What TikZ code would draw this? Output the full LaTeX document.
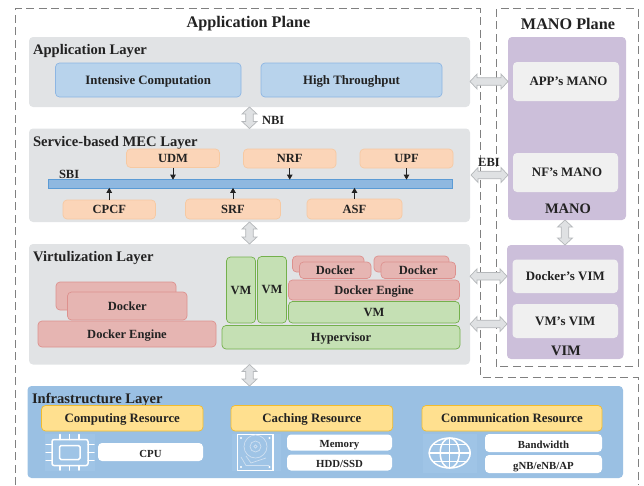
\documentclass[tikz,border=0pt]{standalone}
\usepackage{fontspec}
\setmainfont{Liberation Serif}
\usetikzlibrary{calc,arrows.meta}
\definecolor{txt}{HTML}{222222}
\definecolor{dashc}{HTML}{808080}
\definecolor{layerc}{HTML}{E1E3E5}
\definecolor{blueF}{HTML}{B8D3EC}
\definecolor{blueD}{HTML}{8DB6E3}
\definecolor{orF}{HTML}{FBD5B8}
\definecolor{orD}{HTML}{F6C9A2}
\definecolor{redF}{HTML}{E6B5B2}
\definecolor{redD}{HTML}{DD918E}
\definecolor{grF}{HTML}{C5E0B4}
\definecolor{grD}{HTML}{74B04C}
\definecolor{purF}{HTML}{CCBFDA}
\definecolor{inF}{HTML}{F0F0F0}
\definecolor{infF}{HTML}{9AC0E3}
\definecolor{iconF}{HTML}{9FC4E6}
\definecolor{diskL}{HTML}{CFE0F1}
\definecolor{yeF}{HTML}{FFE08F}
\definecolor{yeD}{HTML}{F2BC2D}
\definecolor{barF}{HTML}{8FB8E0}
\definecolor{barD}{HTML}{5B9BD5}
\definecolor{arF}{HTML}{DFE1E3}
\definecolor{arD}{HTML}{B4B7BA}
\newcommand{\fs}[1]{\bfseries\fontsize{#1}{#1}\selectfont}
\newcommand{\bx}[7]{%
  \pgfmathsetmacro\bxcx{(#3+#5)/2}\pgfmathsetmacro\bxcy{(#4+#6)/2}%
  \pgfmathsetmacro\bxw{#5-#3}\pgfmathsetmacro\bxh{#6-#4}%
  \node[#2,minimum width=\bxw pt,minimum height=\bxh pt] (#1) at (\bxcx,\bxcy) {#7};}
\tikzset{
  base/.style={rectangle,rounded corners=4pt,inner sep=0pt,outer sep=0pt,text=txt,line width=.7pt,font=\fs{12.5},text height=8.2pt,text depth=0pt},
  layer/.style={base,fill=layerc},
  appbox/.style={base,fill=blueF,draw=blueD,font=\fs{12.8}},
  nf/.style={base,fill=orF,draw=orD,font=\fs{12.5}},
  red/.style={base,fill=redF,draw=redD,font=\fs{12.5}},
  grn/.style={base,fill=grF,draw=grD,font=\fs{12.5}},
  pur/.style={base,fill=purF},
  inner/.style={base,fill=inF,font=\fs{12.9}},
  infra/.style={base,fill=infF},
  res/.style={base,fill=yeF,draw=yeD,font=\fs{12.8}},
  item/.style={base,fill=white,font=\fs{10.8},text height=10.5pt},
  title/.style={inner sep=0pt,outer sep=0pt,text=txt,font=\fs{14.6},text height=9.6pt,text depth=0pt},
  plane/.style={inner sep=0pt,outer sep=0pt,text=txt,font=\fs{16.2},text height=10.6pt,text depth=0pt},
  label/.style={inner sep=0pt,outer sep=0pt,text=txt,font=\fs{12.5},text height=8.2pt,text depth=0pt},
  planeline/.style={draw=dashc,line width=1pt,dash pattern=on 8pt off 4.5pt},
  smallarrow/.style={draw=txt,line width=.8pt,-{Triangle[length=5pt,width=5.5pt]}},
  icon/.style={draw=white,line width=1.5pt,line cap=round},
  blockarrow/.style={draw=arD,fill=arF,line width=.7pt,line join=miter,
    to path={
      -- ($(\tikztostart)!7pt!(\tikztotarget)!7.5pt!90:(\tikztotarget)$)
      -- ($(\tikztostart)!7pt!(\tikztotarget)!3.8pt!90:(\tikztotarget)$)
      -- ($(\tikztotarget)!7pt!(\tikztostart)!3.8pt!-90:(\tikztostart)$)
      -- ($(\tikztotarget)!7pt!(\tikztostart)!7.5pt!-90:(\tikztostart)$)
      -- (\tikztotarget)
      -- ($(\tikztotarget)!7pt!(\tikztostart)!7.5pt!90:(\tikztostart)$)
      -- ($(\tikztotarget)!7pt!(\tikztostart)!3.8pt!90:(\tikztostart)$)
      -- ($(\tikztostart)!7pt!(\tikztotarget)!3.8pt!-90:(\tikztotarget)$)
      -- ($(\tikztostart)!7pt!(\tikztotarget)!7.5pt!-90:(\tikztotarget)$)
      -- cycle}}
}
\begin{document}
\begin{tikzpicture}[x=1pt,y=-1pt]
\useasboundingbox (0,0) rectangle (644,485);
% planes
\draw[planeline] (15,485) -- (15,8.5) -- (480,8.5) -- (480,377) -- (638,377) -- (638,485);
\draw[planeline] (496.5,366.7) -- (496.5,8.5) -- (638,8.5) -- (638,366.7) -- cycle;
\node[plane] (appplane) at (248.5,22.5) {Application Plane};
\node[plane] (manoplane) at (568,24) {MANO Plane};
% layers
\bx{app}{layer}{29}{37}{470}{107}{}
\bx{svc}{layer}{29}{128.5}{470}{222}{}
\bx{virt}{layer}{29}{244}{470}{364.5}{}
\bx{inf}{infra}{27.5}{386}{623}{478}{}
\node[title,anchor=west] (t1) at (33,49.5) {Application Layer};
\node[title,anchor=west] (t2) at (33,141.5) {Service-based MEC Layer};
\node[title,anchor=west] (t3) at (33,256.5) {Virtulization Layer};
\node[title,anchor=west] (t4) at (32,399) {Infrastructure Layer};
% application
\bx{ic}{appbox}{55.5}{63}{241}{97}{Intensive Computation}
\bx{ht}{appbox}{261}{63}{442}{97}{High Throughput}
% service
\bx{bar}{base,rounded corners=0pt,fill=barF,draw=barD}{48}{181}{452.5}{186.5}{}
\node[label,anchor=west] (sbi) at (59,174.5) {SBI};
\bx{udm}{nf}{126.5}{149}{219.5}{167.5}{UDM}
\bx{nrf}{nf}{243.5}{149}{336}{168}{NRF}
\bx{upf}{nf}{360}{149}{453}{168}{UPF}
\bx{cpcf}{nf}{63}{200}{155.5}{219}{CPCF}
\bx{srf}{nf}{185.5}{199}{280.5}{219}{SRF}
\bx{asf}{nf}{307}{199}{402}{219}{ASF}
\foreach \n in {udm,nrf,upf} \draw[smallarrow] (\n.south) -- (\n.south |- bar.north);
\foreach \n in {cpcf,srf,asf} \draw[smallarrow] (\n.north) -- (\n.north |- bar.south);
% virtualization
\bx{dkb}{red}{56}{282}{176}{310}{}
\bx{dkf}{red}{67.5}{292}{187}{320}{Docker}
\bx{dke}{red}{38}{321}{216}{347}{Docker Engine}
\bx{vm1}{grn}{226.5}{257}{255.5}{323}{VM}
\bx{vm2}{grn}{257.5}{256.5}{286.5}{323}{VM}
\bx{db1}{red}{292.5}{256}{364}{272}{}
\bx{df1}{red}{299.5}{262}{371}{278.5}{Docker}
\bx{db2}{red}{374}{256}{449}{272}{}
\bx{df2}{red}{381}{262}{455.5}{278.5}{Docker}
\bx{dke2}{red}{288.5}{280}{459.5}{300}{Docker Engine}
\bx{vm3}{grn}{288.5}{301.5}{459.5}{323}{VM}
\bx{hyp}{grn}{222}{325.5}{460}{349}{Hypervisor}
% MANO
\bx{mano}{pur}{508}{37}{626}{220}{}
\bx{appm}{inner}{513}{62}{619}{101}{\hspace*{5pt}APP's MANO}
\bx{nfm}{inner}{513}{153}{618}{192}{\hspace*{3pt}NF's MANO}
\node[plane,font=\fs{14.5},text height=9.6pt] (manot) at (568,208.5) {MANO};
\bx{vim}{pur}{507}{245}{623.5}{359}{}
\bx{dvim}{inner}{512.5}{259.5}{618}{293}{Docker's VIM}
\bx{vvim}{inner}{512.5}{304}{618}{338}{VM's VIM}
\node[plane,font=\fs{14.5},text height=9.6pt] (vimt) at (566,350.5) {VIM};
% block arrows
\draw[blockarrow] (app.south) to (svc.north);
\node[label,anchor=west] (nbi) at (262,120.5) {NBI};
\draw[blockarrow] (svc.south) to (virt.north);
\draw[blockarrow] (virt.south) to (virt.south |- inf.north);
\draw[blockarrow] (mano.south -| 565,0) to (vim.north -| 565,0);
\draw[blockarrow] (app.east |- appm.west) to (mano.west |- appm.west);
\draw[blockarrow] ($(svc.east |- nfm.west)+(1,2.5)$) to ($(mano.west |- nfm.west)+(0,2.5)$);
\node[label] (ebi) at (489,162.5) {EBI};
\draw[blockarrow] (virt.east |- dvim.west) to (vim.west |- dvim.west);
\draw[blockarrow] ($(virt.east |- vvim.west)+(0,3)$) to ($(vim.west |- vvim.west)+(0,3)$);
% infrastructure
\bx{cr}{res}{41.5}{405.5}{203}{431}{Computing Resource}
\bx{car}{res}{231}{405.5}{392.7}{431}{Caching Resource}
\bx{cor}{res}{422}{405.5}{602}{431}{Communication Resource}
\bx{cpu}{item}{98}{443}{203}{461}{CPU}
\bx{mem}{item}{287}{434.5}{392}{450.5}{Memory}
\bx{hdd}{item}{287}{454.5}{392}{470.5}{HDD/SSD}
\bx{bw}{item}{485}{434}{602}{452}{Bandwidth}
\bx{gnb}{item}{485}{455}{602}{473}{gNB/eNB/AP}
% icon backgrounds
\fill[iconF] (45,434) rectangle (95,471);
\fill[iconF] (232,434) rectangle (281,471);
\fill[iconF] (423,434) rectangle (477,473);
% CPU icon
\draw[icon,rounded corners=2pt] (52,439.5) rectangle (88,465.5);
\draw[icon,rounded corners=1.5pt] (59.5,445.5) rectangle (80,459.5);
\foreach \x in {60,69.5,79} {\draw[icon] (\x,434.5) -- (\x,439.5); \draw[icon] (\x,465.5) -- (\x,470);}
\foreach \y in {444.5,452.5,460.5} {\draw[icon] (46,\y) -- (52,\y); \draw[icon] (88,\y) -- (94,\y);}
% disk icon
\draw[draw=white,line width=1.6pt] (237.5,434.5) rectangle (273,470.5);
\begin{scope}[draw=diskL,line width=.7pt]
\draw (255.5,446.5) circle (11.5);
\draw (255.5,446.5) circle (5.5);
\draw (255.5,446.5) circle (1.6);
\draw (241,457) -- (246,465.5) -- (269,465.5);
\draw (246,456) -- (251,463) -- (266,458);
\end{scope}
\foreach \p in {(241,438),(269.5,438),(241,467),(269.5,467)} \fill[white] \p circle (1.2);
% globe icon
\begin{scope}[icon]
\draw (449.7,453) ellipse (20.5 and 15);
\draw (449.7,453) ellipse (9.5 and 15);
\draw (449.7,438) -- (449.7,468);
\draw (429.2,453) -- (470.2,453);
\draw (433,444.5) -- (466.5,444.5);
\draw (433,461.5) -- (466.5,461.5);
\end{scope}
\end{tikzpicture}
\end{document}
